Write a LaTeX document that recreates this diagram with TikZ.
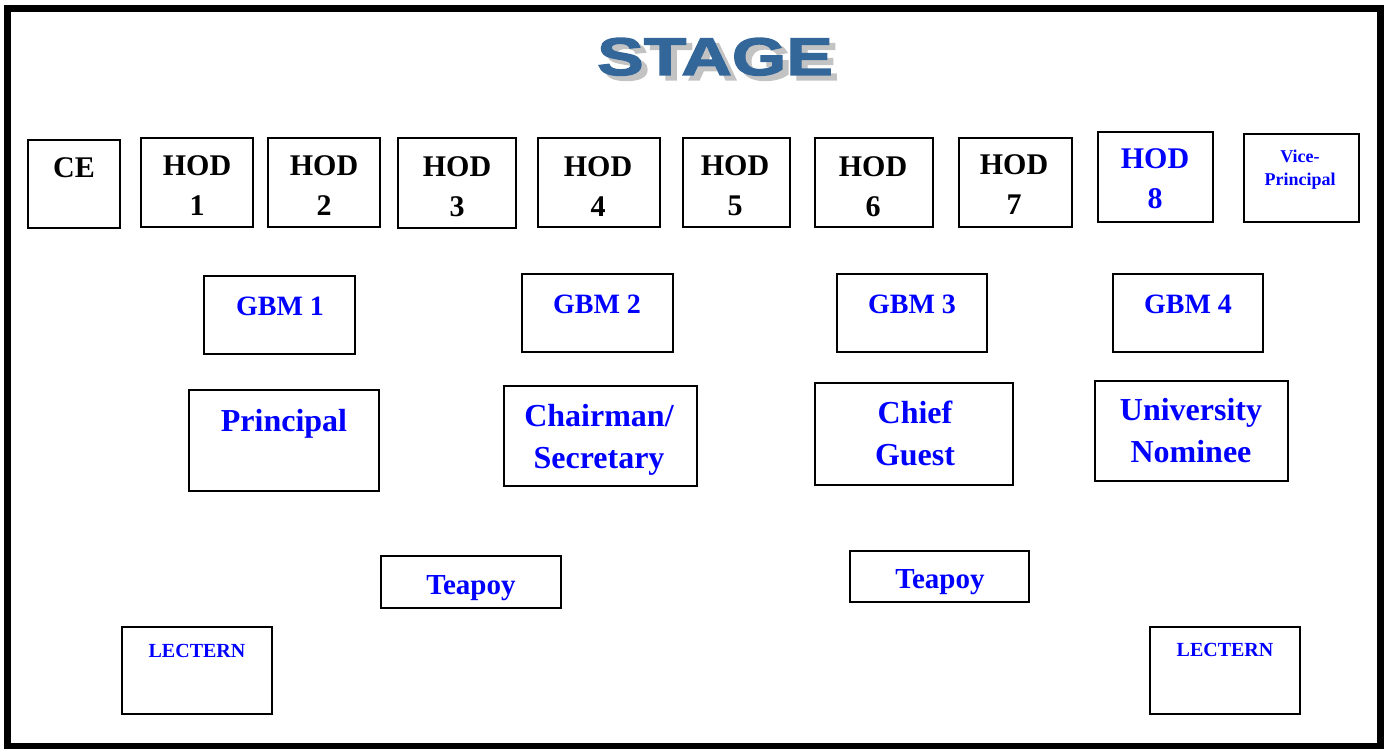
\documentclass[tikz,border=0pt]{standalone}
\usepackage{fontspec}
\setmainfont{Liberation Serif}
\newfontfamily\stagefont[FakeStretch=1.32,FakeBold=2.5]{Liberation Sans}
\definecolor{stageblue}{RGB}{51, 102, 153}
\definecolor{shadowgray}{RGB}{195, 195, 195}
\definecolor{seatblue}{RGB}{0, 0, 255}
\usetikzlibrary{positioning}

\begin{document}
\begin{tikzpicture}[x=1pt, y=-1pt,
  seat/.style={draw, line width=2pt, inner sep=0pt},
  hodtxt/.style={font=\bfseries\fontsize{30}{40}\selectfont, align=center, inner sep=0pt},
  gbmtxt/.style={font=\bfseries\fontsize{28}{34}\selectfont, text=seatblue, inner sep=0pt, anchor=base},
  bigtxt/.style={font=\bfseries\fontsize{32}{42}\selectfont, text=seatblue, align=center, inner sep=0pt},
  smalltxt/.style={font=\bfseries\fontsize{20}{24}\selectfont, text=seatblue, inner sep=0pt, anchor=base}
]
  \useasboundingbox (0,0) rectangle (1390,749);
  \draw[line width=7pt] (7,9) rectangle (1380,746);

  % stage title with shadow
  \node[font=\stagefont\bfseries\fontsize{53}{60}\selectfont, text=shadowgray, anchor=base, inner sep=0pt] (stage-sh) at (721,80) {STAGE};
  \node[font=\stagefont\bfseries\fontsize{53}{60}\selectfont, text=stageblue, anchor=base, inner sep=0pt] (stage) at (715,75) {STAGE};

  % front row
  \node[seat, minimum width=92, minimum height=88] (ce) at (74,184) {};
  \node[seat, minimum width=112, minimum height=89] (hod1) at (197,182.5) {};
  \node[seat, minimum width=112, minimum height=89] (hod2) at (324,182.5) {};
  \node[seat, minimum width=118, minimum height=90] (hod3) at (457,183) {};
  \node[seat, minimum width=122, minimum height=89] (hod4) at (599,182.5) {};
  \node[seat, minimum width=107, minimum height=89] (hod5) at (736.5,182.5) {};
  \node[seat, minimum width=118, minimum height=89] (hod6) at (874,182.5) {};
  \node[seat, minimum width=113, minimum height=89] (hod7) at (1015.5,182.5) {};
  \node[seat, minimum width=115, minimum height=90] (hod8) at (1155.5,177) {};
  \node[seat, minimum width=115, minimum height=88] (vp) at (1301,178) {};
  \node[hodtxt, anchor=base] (ce-txt) at (74,178) {CE};
  \node[hodtxt] (hod1-txt) at (197,186) {HOD\\1};
  \node[hodtxt] (hod2-txt) at (324,186) {HOD\\2};
  \node[hodtxt] (hod3-txt) at (457,187) {HOD\\3};
  \node[hodtxt] (hod4-txt) at (598,187) {HOD\\4};
  \node[hodtxt] (hod5-txt) at (735,186) {HOD\\5};
  \node[hodtxt] (hod6-txt) at (873,186.5) {HOD\\6};
  \node[hodtxt] (hod7-txt) at (1014,185) {HOD\\7};
  \node[hodtxt, text=seatblue] (hod8-txt) at (1155,179) {HOD\\8};
  \node[font=\bfseries\fontsize{18}{23}\selectfont, text=seatblue, align=center, inner sep=0pt] (vp-txt) at (1300,170) {Vice-\\Principal};

  % governing body
  \node[seat, minimum width=151, minimum height=78] (gbm1) at (279.5,315) {};
  \node[seat, minimum width=151, minimum height=78] (gbm2) at (597.5,313) {};
  \node[seat, minimum width=150, minimum height=78] (gbm3) at (912,313) {};
  \node[seat, minimum width=150, minimum height=78] (gbm4) at (1188,313) {};
  \node[gbmtxt] (gbm1-txt) at (280,315) {GBM 1};
  \node[gbmtxt] (gbm2-txt) at (597,313) {GBM 2};
  \node[gbmtxt] (gbm3-txt) at (912,313) {GBM 3};
  \node[gbmtxt] (gbm4-txt) at (1188,313) {GBM 4};

  % dignitaries
  \node[seat, minimum width=190, minimum height=101] (prin) at (284,440.5) {};
  \node[seat, minimum width=193, minimum height=100] (chair) at (600.5,436) {};
  \node[seat, minimum width=198, minimum height=102] (chief) at (914,434) {};
  \node[seat, minimum width=193, minimum height=100] (univ) at (1191.5,431) {};
  \node[bigtxt, anchor=base] (prin-txt) at (284,431) {Principal};
  \node[bigtxt] (chair-txt) at (599,440) {Chairman/\\Secretary};
  \node[bigtxt] (chief-txt) at (915,433) {Chief\\Guest};
  \node[bigtxt] (univ-txt) at (1191,431) {University\\Nominee};

  % tables and lecterns
  \node[seat, minimum width=180, minimum height=52] (tea1) at (471,582) {};
  \node[seat, minimum width=179, minimum height=51] (tea2) at (939.5,576.5) {};
  \node[gbmtxt, font=\bfseries\fontsize{29}{34}\selectfont] (tea1-txt) at (471,594) {Teapoy};
  \node[gbmtxt, font=\bfseries\fontsize{29}{34}\selectfont] (tea2-txt) at (940,588) {Teapoy};
  \node[seat, minimum width=150, minimum height=87] (lect1) at (197,670.5) {};
  \node[seat, minimum width=150, minimum height=87] (lect2) at (1225,670.5) {};
  \node[smalltxt] (lect1-txt) at (197,657) {LECTERN};
  \node[smalltxt] (lect2-txt) at (1225,656) {LECTERN};
\end{tikzpicture}
\end{document}
